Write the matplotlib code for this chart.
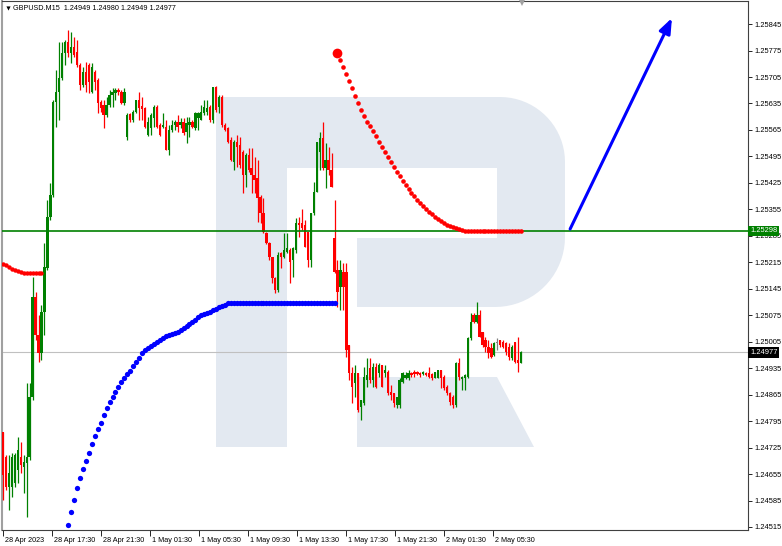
import matplotlib
matplotlib.use('Agg')
import matplotlib.pyplot as plt
from matplotlib.patches import Polygon
from matplotlib.transforms import ScaledTranslation
import numpy as np

plt.rcParams['font.family'] = ['Liberation Sans', 'DejaVu Sans']

# ---- data (GBPUSD M15) ----
symbol = 'GBPUSD.M15'
last_ohlc = ['1.24949', '1.24980', '1.24949', '1.24977']

opens = [
    1.24766, 1.24700, 1.24621, 1.24621, 1.24631, 1.24666, 1.24700, 1.24674, 1.24684, 1.24700,
    1.24859, 1.25123, 1.25023, 1.24975, 1.25083, 1.25200, 1.25335, 1.25393, 1.25639, 1.25665,
    1.25702, 1.25768, 1.25797, 1.25768, 1.25784, 1.25771, 1.25737, 1.25684, 1.25718, 1.25737,
    1.25665, 1.25718, 1.25697, 1.25639, 1.25631, 1.25604, 1.25631, 1.25657, 1.25663, 1.25670,
    1.25665, 1.25636, 1.25546, 1.25607, 1.25591, 1.25612, 1.25644, 1.25628, 1.25623, 1.25552,
    1.25570, 1.25596, 1.25626, 1.25578, 1.25573, 1.25573, 1.25512, 1.25565, 1.25578, 1.25586,
    1.25578, 1.25586, 1.25559, 1.25578, 1.25586, 1.25570, 1.25596, 1.25591, 1.25610, 1.25612,
    1.25626, 1.25591, 1.25678, 1.25626, 1.25652, 1.25578, 1.25570, 1.25538, 1.25480, 1.25533,
    1.25525, 1.25507, 1.25446, 1.25499, 1.25464, 1.25446, 1.25438, 1.25388, 1.25345, 1.25292,
    1.25266, 1.25229, 1.25173, 1.25142, 1.25240, 1.25229, 1.25242, 1.25247, 1.25221, 1.25247,
    1.25319, 1.25319, 1.25314, 1.25295, 1.25221, 1.25345, 1.25401, 1.25507, 1.25544, 1.25464,
    1.25485, 1.25459, 1.25279, 1.25194, 1.25150, 1.25189, 1.25189, 1.24996, 1.24922, 1.24896,
    1.24922, 1.24832, 1.24843, 1.24904, 1.24935, 1.24904, 1.24938, 1.24922, 1.24943, 1.24922,
    1.24925, 1.24872, 1.24869, 1.24837, 1.24837, 1.24898, 1.24909, 1.24909, 1.24922, 1.24925,
    1.24925, 1.24922, 1.24920, 1.24922, 1.24922, 1.24920, 1.24909, 1.24909, 1.24930, 1.24912,
    1.24885, 1.24869, 1.24859, 1.24837, 1.24949, 1.24906, 1.24909, 1.24912, 1.25015, 1.25076,
    1.25057, 1.25076, 1.25031, 1.25009, 1.24991, 1.24988, 1.24970, 1.25001, 1.25009, 1.25004,
    1.25001, 1.24991, 1.24962, 1.25004, 1.24956, 1.24949,
]
highs = [
    1.24766, 1.24705, 1.24705, 1.24711, 1.24711, 1.24753, 1.24740, 1.24705, 1.24896, 1.24896,
    1.25176, 1.25136, 1.25076, 1.25102, 1.25266, 1.25380, 1.25425, 1.25644, 1.25723, 1.25797,
    1.25797, 1.25803, 1.25829, 1.25824, 1.25811, 1.25803, 1.25742, 1.25731, 1.25745, 1.25742,
    1.25742, 1.25723, 1.25702, 1.25644, 1.25644, 1.25652, 1.25670, 1.25676, 1.25676, 1.25676,
    1.25670, 1.25676, 1.25610, 1.25610, 1.25618, 1.25644, 1.25665, 1.25652, 1.25626, 1.25599,
    1.25610, 1.25631, 1.25631, 1.25583, 1.25610, 1.25591, 1.25578, 1.25591, 1.25591, 1.25604,
    1.25596, 1.25596, 1.25599, 1.25599, 1.25591, 1.25612, 1.25612, 1.25631, 1.25644, 1.25644,
    1.25631, 1.25678, 1.25681, 1.25657, 1.25657, 1.25583, 1.25573, 1.25546, 1.25538, 1.25552,
    1.25546, 1.25512, 1.25504, 1.25517, 1.25517, 1.25493, 1.25485, 1.25393, 1.25385, 1.25295,
    1.25268, 1.25229, 1.25176, 1.25242, 1.25242, 1.25292, 1.25292, 1.25253, 1.25255, 1.25332,
    1.25335, 1.25356, 1.25327, 1.25295, 1.25345, 1.25427, 1.25533, 1.25559, 1.25586, 1.25530,
    1.25520, 1.25504, 1.25380, 1.25221, 1.25221, 1.25213, 1.25213, 1.24996, 1.24938, 1.24943,
    1.24922, 1.24851, 1.24938, 1.24962, 1.24962, 1.24949, 1.24949, 1.24949, 1.24943, 1.24943,
    1.24930, 1.24890, 1.24869, 1.24859, 1.24909, 1.24925, 1.24925, 1.24930, 1.24925, 1.24930,
    1.24927, 1.24925, 1.24927, 1.24925, 1.24938, 1.24922, 1.24925, 1.24930, 1.24930, 1.24917,
    1.24890, 1.24872, 1.24864, 1.24951, 1.24962, 1.24914, 1.24920, 1.25017, 1.25081, 1.25081,
    1.25110, 1.25089, 1.25031, 1.25017, 1.25009, 1.25001, 1.25004, 1.25015, 1.25009, 1.25009,
    1.25004, 1.25001, 1.24996, 1.25004, 1.25017, 1.24980,
]
lows = [
    1.24586, 1.24613, 1.24560, 1.24594, 1.24621, 1.24631, 1.24658, 1.24605, 1.24541, 1.24692,
    1.24851, 1.25009, 1.24951, 1.24956, 1.25023, 1.25194, 1.25327, 1.25388, 1.25573, 1.25591,
    1.25697, 1.25737, 1.25758, 1.25742, 1.25758, 1.25731, 1.25670, 1.25678, 1.25665, 1.25663,
    1.25663, 1.25670, 1.25610, 1.25612, 1.25570, 1.25599, 1.25626, 1.25626, 1.25644, 1.25657,
    1.25634, 1.25631, 1.25538, 1.25586, 1.25586, 1.25610, 1.25591, 1.25591, 1.25570, 1.25549,
    1.25552, 1.25573, 1.25570, 1.25549, 1.25570, 1.25512, 1.25499, 1.25559, 1.25565, 1.25559,
    1.25570, 1.25552, 1.25530, 1.25546, 1.25570, 1.25565, 1.25565, 1.25591, 1.25604, 1.25604,
    1.25586, 1.25583, 1.25612, 1.25610, 1.25573, 1.25562, 1.25530, 1.25483, 1.25459, 1.25467,
    1.25464, 1.25398, 1.25414, 1.25454, 1.25398, 1.25398, 1.25321, 1.25319, 1.25292, 1.25263,
    1.25221, 1.25160, 1.25134, 1.25136, 1.25200, 1.25226, 1.25240, 1.25160, 1.25176, 1.25240,
    1.25282, 1.25300, 1.25255, 1.25202, 1.25202, 1.25340, 1.25401, 1.25459, 1.25459, 1.25411,
    1.25446, 1.25414, 1.25187, 1.25097, 1.25089, 1.25089, 1.24964, 1.24904, 1.24843, 1.24859,
    1.24819, 1.24798, 1.24837, 1.24885, 1.24896, 1.24885, 1.24882, 1.24912, 1.24885, 1.24912,
    1.24864, 1.24851, 1.24832, 1.24830, 1.24830, 1.24896, 1.24906, 1.24904, 1.24912, 1.24912,
    1.24917, 1.24912, 1.24917, 1.24914, 1.24909, 1.24904, 1.24909, 1.24909, 1.24882, 1.24877,
    1.24864, 1.24837, 1.24830, 1.24832, 1.24904, 1.24877, 1.24877, 1.24909, 1.25009, 1.25054,
    1.25054, 1.25017, 1.24991, 1.24978, 1.24962, 1.24962, 1.24967, 1.24983, 1.24991, 1.24988,
    1.24970, 1.24956, 1.24956, 1.24949, 1.24925, 1.24949,
]
closes = [
    1.24652, 1.24621, 1.24658, 1.24700, 1.24705, 1.24718, 1.24679, 1.24687, 1.24700, 1.24859,
    1.25123, 1.25023, 1.24975, 1.25083, 1.25202, 1.25335, 1.25393, 1.25639, 1.25665, 1.25702,
    1.25768, 1.25797, 1.25768, 1.25784, 1.25763, 1.25737, 1.25684, 1.25718, 1.25684, 1.25692,
    1.25731, 1.25692, 1.25636, 1.25623, 1.25604, 1.25631, 1.25657, 1.25665, 1.25670, 1.25665,
    1.25636, 1.25665, 1.25604, 1.25591, 1.25612, 1.25644, 1.25623, 1.25620, 1.25573, 1.25586,
    1.25604, 1.25626, 1.25573, 1.25552, 1.25578, 1.25512, 1.25565, 1.25578, 1.25586, 1.25573,
    1.25586, 1.25557, 1.25583, 1.25586, 1.25573, 1.25610, 1.25610, 1.25612, 1.25626, 1.25623,
    1.25591, 1.25678, 1.25618, 1.25652, 1.25578, 1.25565, 1.25533, 1.25485, 1.25533, 1.25520,
    1.25472, 1.25446, 1.25499, 1.25459, 1.25446, 1.25432, 1.25385, 1.25345, 1.25295, 1.25266,
    1.25229, 1.25173, 1.25142, 1.25234, 1.25229, 1.25247, 1.25253, 1.25216, 1.25253, 1.25319,
    1.25314, 1.25306, 1.25255, 1.25221, 1.25345, 1.25401, 1.25533, 1.25544, 1.25464, 1.25485,
    1.25459, 1.25414, 1.25189, 1.25136, 1.25194, 1.25150, 1.24983, 1.24922, 1.24885, 1.24922,
    1.24824, 1.24851, 1.24912, 1.24917, 1.24904, 1.24938, 1.24885, 1.24943, 1.24885, 1.24930,
    1.24869, 1.24864, 1.24843, 1.24859, 1.24904, 1.24922, 1.24917, 1.24922, 1.24917, 1.24920,
    1.24920, 1.24917, 1.24925, 1.24917, 1.24912, 1.24909, 1.24925, 1.24930, 1.24909, 1.24882,
    1.24869, 1.24846, 1.24837, 1.24949, 1.24912, 1.24912, 1.24917, 1.25015, 1.25057, 1.25057,
    1.25076, 1.25017, 1.24996, 1.24991, 1.24975, 1.24964, 1.25001, 1.25001, 1.24996, 1.24991,
    1.24978, 1.24964, 1.24991, 1.24951, 1.24949, 1.24977,
]

# trailing-stop dots (indicator), each list starts at the given bar
red_left_start = 0
red_left = [1.25211, 1.25208, 1.25202, 1.25197, 1.25194, 1.25192, 1.25189,
            1.25187, 1.25187, 1.25187, 1.25187, 1.25187, 1.25187, 1.25187]

blue_start = 22
blue_dots = [
    1.24520, 1.24555, 1.24586, 1.24618, 1.24644, 1.24668, 1.24689, 1.24711, 1.24734, 1.24756,
    1.24774, 1.24790, 1.24811, 1.24830, 1.24846, 1.24859, 1.24872, 1.24885, 1.24898, 1.24909,
    1.24919, 1.24927, 1.24941, 1.24951, 1.24962, 1.24975, 1.24983, 1.24988, 1.24994, 1.24999,
    1.25004, 1.25009, 1.25015, 1.25020, 1.25023, 1.25025, 1.25028, 1.25031, 1.25036, 1.25041,
    1.25046, 1.25052, 1.25057, 1.25062, 1.25070, 1.25075, 1.25078, 1.25081, 1.25083, 1.25089,
    1.25091, 1.25097, 1.25099, 1.25102,
    1.25107, 1.25107, 1.25107, 1.25107, 1.25107, 1.25107, 1.25107, 1.25107, 1.25107, 1.25107,
    1.25107, 1.25107, 1.25107, 1.25107, 1.25107, 1.25107, 1.25107, 1.25107, 1.25107, 1.25107,
    1.25107, 1.25107, 1.25107, 1.25107, 1.25107, 1.25107, 1.25107, 1.25107, 1.25107, 1.25107,
    1.25107, 1.25107, 1.25107, 1.25107, 1.25107, 1.25107, 1.25107,
]

red_right_start = 113
red_right = [
    1.25768, 1.25750, 1.25731, 1.25713, 1.25694, 1.25676, 1.25655, 1.25636, 1.25618, 1.25602,
    1.25586, 1.25575, 1.25562, 1.25549, 1.25533, 1.25520, 1.25507, 1.25493, 1.25480, 1.25467,
    1.25454, 1.25443, 1.25430, 1.25419, 1.25409, 1.25398, 1.25390, 1.25380, 1.25372, 1.25364,
    1.25356, 1.25348, 1.25343, 1.25335, 1.25330, 1.25324, 1.25319, 1.25314, 1.25311, 1.25308,
    1.25306, 1.25303, 1.25300,
    1.25298, 1.25298, 1.25298, 1.25298, 1.25298, 1.25298, 1.25298, 1.25298, 1.25298, 1.25298,
    1.25298, 1.25298, 1.25298, 1.25298, 1.25298, 1.25298, 1.25298, 1.25298, 1.25298, 1.25298,
]

level_line = 1.25298
bid = 1.24977

# forecast arrow (bar index, price)
arrow_start_bar, arrow_start_price = 191.6, 1.25303
arrow_end_bar, arrow_end_price = 226.0, 1.25861

time_labels = ['28 Apr 2023', '28 Apr 17:30', '28 Apr 21:30', '1 May 01:30', '1 May 05:30',
               '1 May 09:30', '1 May 13:30', '1 May 17:30', '1 May 21:30', '2 May 01:30',
               '2 May 05:30']
price_ticks = [1.24515, 1.24585, 1.24655, 1.24725, 1.24795, 1.24865, 1.24935, 1.25005,
               1.25075, 1.25145, 1.25215, 1.25285, 1.25355, 1.25425, 1.25495, 1.25565,
               1.25635, 1.25705, 1.25775, 1.25845]

# ---- figure ----
W, H = 782, 546
fig = plt.figure(figsize=(W / 100, H / 100), dpi=100)
fig.patch.set_facecolor('white')
ax = fig.add_axes([2 / W, (H - 530) / H, 746 / W, 529 / H])

def px(x, y):
    # screenshot pixel -> axes fraction
    return ((x - 2) / 746, (530 - y) / 529)

# watermark "R" logo
wm = '#e3e9f1'
r1, r2 = 65, 70
t1 = np.linspace(np.pi / 2, 0, 20)
t2 = np.linspace(0, -np.pi / 2, 20)
arc1 = [(565 - r1 + r1 * np.cos(t), 97 + r1 - r1 * np.sin(t)) for t in t1]
arc2 = [(565 - r2 + r2 * np.cos(t), 307 - r2 - r2 * np.sin(t)) for t in t2]
body_pts = [(216, 97)] + arc1 + arc2 + [(357, 307), (357, 238), (497, 238), (497, 168),
                                         (287, 168), (287, 447), (216, 447)]
leg_pts = [(357, 377), (497, 377), (534, 447), (357, 447)]
for pts in (body_pts, leg_pts):
    ax.add_patch(Polygon([px(*p) for p in pts], closed=True, transform=ax.transAxes,
                         fc=wm, ec='none', zorder=0.5))

# candles
o = np.array(opens); h = np.array(highs); l = np.array(lows); c = np.array(closes)
idx = np.arange(len(c))
cols = np.where(c > o, '#008000', np.where(c < o, '#ff0000', '#808080'))
ax.vlines(idx, l, h, colors=cols, lw=0.9, zorder=3)
ax.bar(idx, np.maximum(np.abs(c - o), 0.00003), bottom=np.minimum(o, c), width=0.78,
       color=cols, lw=0, zorder=3)

# levels
ax.axhline(bid, color='#c0c0c0', lw=0.8, zorder=2)
ax.axhline(level_line, color='#008000', lw=1.2, zorder=4)

# indicator dots
ax.plot(np.arange(len(red_left)) + red_left_start, red_left, 'o', color='#ff0000',
        ms=3.2, mew=0, zorder=5)
ax.plot(np.arange(len(blue_dots)) + blue_start, blue_dots, 'o', color='#0000ff',
        ms=3.8, mew=0, zorder=5)
ax.plot(np.arange(len(red_right)) + red_right_start, red_right, 'o', color='#ff0000',
        ms=3.3, mew=0, zorder=5)
ax.plot([red_right_start], [red_right[0]], 'o', color='#ff0000', ms=7, mew=0, zorder=5)

# arrow
ax.annotate('', xy=(arrow_end_bar, arrow_end_price),
            xytext=(arrow_start_bar, arrow_start_price),
            arrowprops=dict(arrowstyle='-|>,head_length=0.9,head_width=0.35', color='#0000ff',
                            lw=2.2, shrinkA=0, shrinkB=0, mutation_scale=10), zorder=6)

# axes ranges
ax.set_xlim(-0.34, 251.7)
ax.set_ylim(1.24507, 1.25906)

# price axis
ax.yaxis.tick_right()
ax.set_yticks(price_ticks)
ax.set_yticklabels(['%.5f' % p for p in price_ticks])
ax.tick_params(axis='y', direction='out', length=3, width=0.6, pad=1.5, labelsize=5.4,
               colors='black')

# time axis
tick_pos = [i * 16.55 - 0.1 for i in range(len(time_labels))]
ax.set_xticks(tick_pos)
ax.set_xticklabels(time_labels)
ax.tick_params(axis='x', direction='out', length=4, width=0.6, pad=0.8, labelsize=5.2,
               colors='black')
shift = ScaledTranslation(2 / 100, 0, fig.dpi_scale_trans)
for lab in ax.get_xticklabels():
    lab.set_ha('left')
    lab.set_transform(lab.get_transform() + shift)

for s in ['top', 'right', 'bottom']:
    ax.spines[s].set_color('#404040')
    ax.spines[s].set_linewidth(0.8)
ax.spines['left'].set_color('#a0a0a0')
ax.spines['left'].set_linewidth(1.5)

# price labels on the axis
ax.annotate('%.5f' % level_line, xy=(1, level_line), xycoords=('axes fraction', 'data'),
            xytext=(1.5, 0), textcoords='offset points', va='center', ha='left',
            fontsize=5.4, color='white', zorder=10, annotation_clip=False,
            bbox=dict(boxstyle='square,pad=0.25', fc='#008000', ec='none'))
ax.annotate('%.5f' % bid, xy=(1, bid), xycoords=('axes fraction', 'data'),
            xytext=(1.5, 0), textcoords='offset points', va='center', ha='left',
            fontsize=5.4, color='white', zorder=10, annotation_clip=False,
            bbox=dict(boxstyle='square,pad=0.25', fc='black', ec='none'))

# header
ax.plot(*px(8, 8), marker='v', color='black', ms=3, mew=0, transform=ax.transAxes,
        clip_on=False, zorder=10)
ax.text(*px(13, 8), symbol + '  ' + ' '.join(last_ohlc), transform=ax.transAxes,
        ha='left', va='center', fontsize=5.2, color='black', zorder=10)
ax.plot(*px(522, 3), marker='v', color='#a0a0a0', ms=5, mew=0, transform=ax.transAxes,
        clip_on=False, zorder=10)

fig.savefig('out.png', dpi=100, facecolor='white')
